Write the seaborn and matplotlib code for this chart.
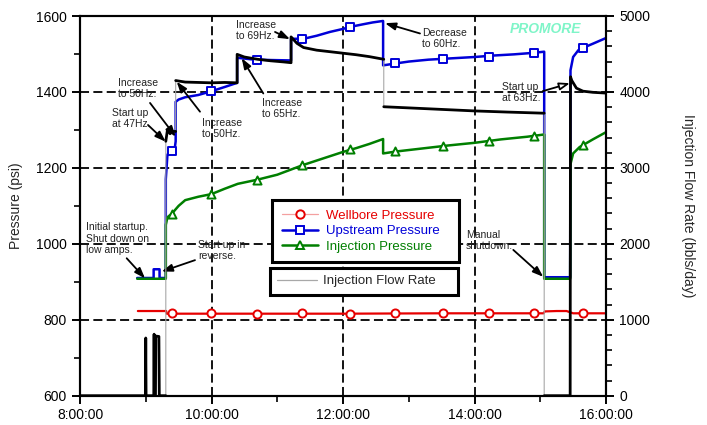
import numpy as np
import pandas as pd
import matplotlib
matplotlib.use("Agg")
import matplotlib.pyplot as plt
from matplotlib.lines import Line2D
from matplotlib.ticker import MultipleLocator, FuncFormatter
import seaborn as sns

# ---------------- data (time in hours of day) ----------------
wb_t = [8.88, 9.31, 9.32, 10.5, 12.0, 13.5, 15.05, 15.07, 15.25, 15.4, 15.45, 15.5, 16.0]
wb_p = [823, 823, 816, 816, 816, 817, 817, 822, 823, 823, 820, 817, 817]

up_t = [8.87, 9.12, 9.12, 9.21, 9.21, 9.305, 9.305, 9.33, 9.38, 9.44, 9.455, 9.455, 9.5,
        9.6, 9.8, 10.0, 10.2, 10.39, 10.39, 10.6, 10.9, 11.21, 11.21, 11.4, 11.6, 11.8,
        12.0, 12.1, 12.3, 12.45, 12.61, 12.61, 12.8, 13.0, 13.3, 13.6, 14.0, 14.3, 14.6,
        14.9, 15.06, 15.06, 15.455, 15.46, 15.5, 15.58, 15.65, 15.8, 16.0]
up_p = [910, 910, 933, 933, 910, 910, 1170, 1235, 1245, 1250, 1270, 1374, 1380,
        1386, 1392, 1402, 1413, 1424, 1490, 1486, 1484, 1483, 1540, 1540, 1548, 1558,
        1566, 1571, 1578, 1583, 1587, 1470, 1475, 1480, 1485, 1488, 1492, 1496, 1499,
        1503, 1506, 912, 912, 1457, 1492, 1510, 1516, 1527, 1542]

inj_t = [8.87, 9.305, 9.305, 9.33, 9.40, 9.5, 9.6, 9.8, 10.0, 10.2, 10.4, 10.7, 11.0,
         11.2, 11.4, 11.7, 12.0, 12.2, 12.4, 12.61, 12.61, 12.8, 13.2, 13.6, 14.0, 14.4,
         14.8, 15.06, 15.06, 15.455, 15.46, 15.5, 15.6, 15.65, 15.8, 16.0]
inj_p = [908, 908, 1050, 1070, 1080, 1100, 1115, 1124, 1131, 1145, 1158, 1169, 1182,
         1195, 1208, 1225, 1242, 1252, 1263, 1276, 1238, 1243, 1251, 1259, 1266, 1275,
         1282, 1288, 908, 908, 1210, 1238, 1255, 1260, 1275, 1294]

flow_t = [8.0, 8.995, 9.0, 9.005, 9.122, 9.127, 9.132, 9.148, 9.152, 9.2, 9.206,
          9.305, 9.305, 9.33, 9.37, 9.40, 9.455, 9.455, 9.6, 9.8, 10.0, 10.2, 10.39,
          10.39, 10.5, 10.7, 10.9, 11.1, 11.21, 11.21, 11.3, 11.4, 11.6, 11.8, 12.0,
          12.2, 12.4, 12.62, 12.62, 13.0, 13.5, 14.0, 14.5, 15.06, 15.06, 15.455,
          15.46, 15.48, 15.55, 15.65, 15.8, 16.0]
flow_q = [0, 0, 760, 0, 0, 810, 0, 0, 785, 780, 0,
          0, 3350, 3500, 3450, 3480, 3480, 4150, 4130, 4125, 4120, 4125, 4120,
          4495, 4460, 4430, 4410, 4395, 4385, 4725, 4640, 4585, 4550, 4530, 4510,
          4490, 4465, 4430, 3805, 3790, 3770, 3750, 3735, 3720, 0, 0,
          4200, 4150, 4050, 4010, 3995, 3985]

mk_t = [9.40, 9.99, 10.69, 11.38, 12.11, 12.79, 13.52, 14.22, 14.90, 15.65]
wb_mk = [817, 817, 816, 817, 816, 817, 818, 817, 817, 817]
up_mk = [1245, 1402, 1483, 1539, 1571, 1475, 1486, 1492, 1503, 1516]
inj_mk = [1079, 1131, 1169, 1207, 1249, 1244, 1258, 1270, 1283, 1260]

series_labels = ["Wellbore Pressure", "Upstream Pressure", "Injection Pressure"]
flow_label = "Injection Flow Rate"

# ---------------- style ----------------
sns.set_theme(style="white")
plt.rcParams["font.family"] = ["Liberation Sans", "DejaVu Sans"]
plt.rcParams["axes.linewidth"] = 1.5

RED, BLUE, GREEN = "#E60000", "#0000D8", "#007F00"

fig = plt.figure(figsize=(7.07, 4.25), dpi=100)
ax = fig.add_axes([80 / 707, 1 - 395.7 / 425, (606 - 80) / 707, (395.7 - 16) / 425])
ax2 = ax.twinx()

# grid
ax.set_axisbelow(True)
ax.grid(True, which="major", color="black", lw=1.3, ls=(0, (5, 2.4)))

# pressure lines
sns.lineplot(x=wb_t, y=wb_p, ax=ax, color=RED, lw=1.6, estimator=None, sort=False)
sns.lineplot(x=up_t, y=up_p, ax=ax, color=BLUE, lw=1.8, estimator=None, sort=False)
sns.lineplot(x=inj_t, y=inj_p, ax=ax, color=GREEN, lw=1.8, estimator=None, sort=False)

for vals, col, mk in [(wb_mk, RED, "o"), (up_mk, BLUE, "s"), (inj_mk, GREEN, "^")]:
    sns.scatterplot(x=mk_t, y=vals, ax=ax, marker=mk, s=34, facecolor="white",
                    edgecolor=col, linewidth=1.4, zorder=5)

# flow line: thin gray throughout, thick black except vertical big jumps
ft = np.array(flow_t)
fq = np.array(flow_q, dtype=float)
jump = (np.diff(ft) == 0) & (np.abs(np.diff(fq)) >= 500)
seg = np.concatenate([[0], np.cumsum(jump)])
sns.lineplot(x=ft, y=fq, ax=ax2, color="#A8A8A8", lw=0.8, estimator=None, sort=False)
fdf = pd.DataFrame({"t": ft, "q": fq, "seg": seg})
sns.lineplot(data=fdf, x="t", y="q", units="seg", ax=ax2, color="black", lw=2.0,
             estimator=None, sort=False)

# axes setup
ax.set_xlim(8, 16)
ax.set_ylim(600, 1600)
ax2.set_ylim(0, 5000)
ax.xaxis.set_major_locator(MultipleLocator(2))
ax.xaxis.set_minor_locator(MultipleLocator(1))
ax.yaxis.set_major_locator(MultipleLocator(200))
ax.yaxis.set_minor_locator(MultipleLocator(100))
ax2.yaxis.set_major_locator(MultipleLocator(1000))
ax2.yaxis.set_minor_locator(MultipleLocator(200))
ax.xaxis.set_major_formatter(FuncFormatter(lambda v, p: f"{int(round(v))}:00:00"))
ax2.grid(False)

for a in (ax, ax2):
    a.tick_params(which="major", direction="out", length=6, width=1.4, labelsize=10,
                  color="black", labelcolor="black")
    a.tick_params(which="minor", direction="out", length=4, width=1.2, color="black")
ax.tick_params(axis="y", which="both", left=True, right=False)
ax.tick_params(axis="x", which="both", bottom=True, pad=3)
ax2.tick_params(axis="y", which="both", right=True, left=False)
for a in (ax, ax2):
    for s in a.spines.values():
        s.set_linewidth(1.5)
        s.set_color("black")

ax.set_xlabel("")
ax.set_ylabel("Pressure (psi)", fontsize=10, labelpad=9)
ax2.set_ylabel("Injection Flow Rate (bbls/day)", fontsize=10, rotation=270,
               va="bottom", labelpad=22)

# legends
h1 = [Line2D([], [], color="#F4A0A0", lw=0.9, marker="o", ms=6, mfc="white", mec=RED, mew=1.4),
      Line2D([], [], color=BLUE, lw=1.8, marker="s", ms=6, mfc="white", mec=BLUE, mew=1.4),
      Line2D([], [], color=GREEN, lw=1.8, marker="^", ms=6, mfc="white", mec=GREEN, mew=1.4)]
leg1 = ax2.legend(h1, series_labels, loc="upper left", mode="expand",
                  bbox_to_anchor=(272 / 707, 1 - 263 / 425, 187 / 707, 63 / 425),
                  bbox_transform=fig.transFigure,
                  borderaxespad=0, fontsize=9.5, handlelength=2.8, handletextpad=0.6,
                  borderpad=0.72, labelspacing=0.24, fancybox=False, framealpha=1,
                  edgecolor="black")
leg1.get_frame().set_linewidth(2.2)
for txt, c in zip(leg1.get_texts(), [RED, BLUE, GREEN]):
    txt.set_color(c)
ax2.add_artist(leg1)
h2 = [Line2D([], [], color="#A8A8A8", lw=0.9)]
leg2 = ax2.legend(h2, [flow_label], loc="upper left", mode="expand",
                  bbox_to_anchor=(270 / 707, 1 - 295 / 425, 188 / 707, 27 / 425),
                  bbox_transform=fig.transFigure,
                  borderaxespad=0, fontsize=9.5, handlelength=3.0, handletextpad=0.5,
                  borderpad=0.55, fancybox=False, framealpha=1, edgecolor="black")
leg2.get_frame().set_linewidth(2.2)

# annotations (hours, psi)
notes = [
    ("Increase\nto 69Hz.", (10.373, 1561), (10.966, 1558), (11.194, 1539), False),
    ("Decrease\nto 60Hz.", (13.206, 1541), (13.171, 1554), (12.639, 1581), False),
    ("Increase\nto 50Hz.", (8.578, 1409), (9.065, 1371), (9.456, 1282), False),
    ("Start up\nat 47Hz.", (8.487, 1329), (9.034, 1313), (9.303, 1269), False),
    ("Increase\nto 50Hz.", (9.856, 1303), (9.825, 1348), (9.471, 1427), False),
    ("Increase\nto 65Hz.", (10.773, 1356), (10.788, 1396), (10.459, 1489), False),
    ("Start up\nat 63Hz.", (14.418, 1398), (15.037, 1402), (15.452, 1423), True),
    ("Initial startup.\nShut down on\nlow amps.", (8.091, 1014), (8.71, 962), (8.989, 909), False),
    ("Start up in\nreverse.", (9.799, 982), (9.749, 957), (9.243, 927), False),
    ("Manual\nshutdown.", (13.871, 1009), (14.59, 984), (15.046, 913), False),
]
for text, tpos, tail, head, hollow in notes:
    ax.text(tpos[0], tpos[1], text, fontsize=7.5, color="#222222", ha="left",
            va="center", linespacing=1.15, zorder=20)
    ax.annotate("", xy=head, xytext=tail, zorder=20,
                arrowprops=dict(arrowstyle="-|>,head_length=0.7,head_width=0.25",
                                mutation_scale=9, lw=1.3, color="black",
                                fc="white" if hollow else "black",
                                shrinkA=0, shrinkB=0))

ax.text(15.08, 1566, "PROMORE", fontsize=10, fontweight="bold", fontstyle="italic",
        color="#7FF5C8", ha="center", va="center", zorder=20)

fig.savefig("out.png", dpi=100)
